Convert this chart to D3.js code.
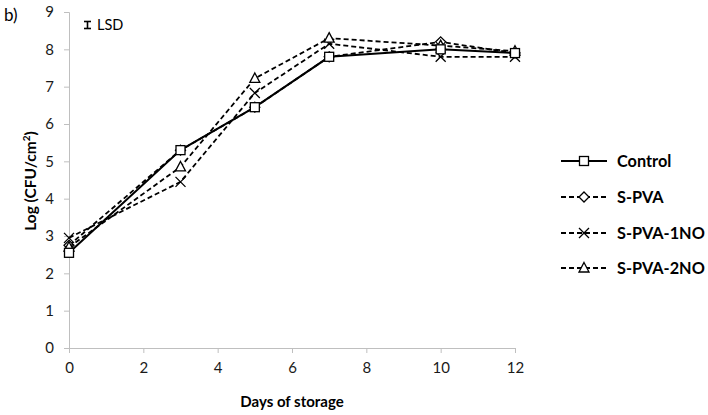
<!DOCTYPE html>
<html><head><meta charset="utf-8">
<script src="https://cdn.jsdelivr.net/npm/d3@7"></script>
<style>body{margin:0;background:#fff}svg{font-family:Lato,"Open Sans",sans-serif}</style>
</head><body><svg id="c" width="708" height="415"></svg>
<script>
const days = [0, 3, 5, 7, 10, 12];
const control = [2.55, 5.3, 6.45, 7.8, 8.0, 7.9];
const sPVA = [2.75, 5.3, 6.45, 7.8, 8.2, 7.9];
const sPVA1NO = [2.95, 4.45, 6.83, 8.15, 7.8, 7.8];
const sPVA2NO = [2.7, 4.85, 7.22, 8.3, 8.1, 7.95];
const xTicks = [0, 2, 4, 6, 8, 10, 12];
const yTicks = [0, 1, 2, 3, 4, 5, 6, 7, 8, 9];
const seriesNames = ["Control", "S-PVA", "S-PVA-1NO", "S-PVA-2NO"];
const seriesValues = [control, sPVA, sPVA1NO, sPVA2NO];
const markers = ["square", "diamond", "cross", "triangle"];

const svg = d3.select("#c");
const x = d3.scaleLinear().domain([0, 12]).range([69, 515]);
const y = d3.scaleLinear().domain([0, 9]).range([348, 12]);

const axisColor = "#bfbfbf";
const gx = svg.append("g").attr("transform", "translate(0,348)")
  .call(d3.axisBottom(x).tickValues(xTicks).tickSize(5).tickPadding(9));
const gy = svg.append("g").attr("transform", "translate(69,0)")
  .call(d3.axisLeft(y).tickValues(yTicks).tickSize(5).tickPadding(10));
[gx, gy].forEach(g => {
  g.select(".domain").attr("stroke", axisColor);
  g.selectAll(".tick line").attr("stroke", axisColor);
  g.selectAll(".tick text").attr("font-size", 15).attr("fill", "#1a1a1a")
    .attr("font-family", "Lato, sans-serif");
});

svg.append("text").attr("x", 292).attr("y", 407).attr("text-anchor", "middle")
  .attr("font-weight", "bold").attr("font-size", 15).text("Days of storage");
svg.append("text").attr("transform", "translate(36,181) rotate(-90)")
  .attr("text-anchor", "middle").attr("font-weight", "bold").attr("font-size", 15.5)
  .html('Log (CFU/cm<tspan dy="-6" font-size="10">2</tspan><tspan dy="6">)</tspan>');
svg.append("text").attr("x", 4).attr("y", 21).attr("font-size", 17).text("b)");

// LSD
const lg = svg.append("g").attr("stroke", "#000").attr("stroke-width", 1.6);
lg.append("line").attr("x1", 87.5).attr("x2", 87.5).attr("y1", 21.5).attr("y2", 28.5);
lg.append("line").attr("x1", 84).attr("x2", 91).attr("y1", 21.5).attr("y2", 21.5);
lg.append("line").attr("x1", 84).attr("x2", 91).attr("y1", 28.5).attr("y2", 28.5);
svg.append("text").attr("x", 97).attr("y", 30).attr("font-size", 14.5).text("LSD");

function drawMarker(g, type, cx, cy) {
  if (type === "square") {
    g.append("rect").attr("x", cx - 4.5).attr("y", cy - 4.5).attr("width", 9).attr("height", 9)
      .attr("fill", "#fff").attr("stroke", "#000").attr("stroke-width", 1.3);
  } else if (type === "diamond") {
    g.append("path").attr("d", `M${cx},${cy-5}L${cx+5},${cy}L${cx},${cy+5}L${cx-5},${cy}Z`)
      .attr("fill", "#fff").attr("stroke", "#000").attr("stroke-width", 1.3);
  } else if (type === "cross") {
    g.append("path").attr("d", `M${cx-5},${cy-5}L${cx+5},${cy+5}M${cx-5},${cy+5}L${cx+5},${cy-5}`)
      .attr("stroke", "#000").attr("stroke-width", 1.3);
  } else {
    g.append("path").attr("d", `M${cx},${cy-5.5}L${cx+5},${cy+4}L${cx-5},${cy+4}Z`)
      .attr("fill", "#fff").attr("stroke", "#000").attr("stroke-width", 1.3);
  }
}

const line = d3.line().x((d, i) => x(days[i])).y(d => y(d));
const order = [1, 2, 3, 0];
order.forEach(si => {
  const vals = seriesValues[si];
  const g = svg.append("g");
  g.append("path").attr("d", line(vals)).attr("fill", "none").attr("stroke", "#000")
    .attr("stroke-width", si === 0 ? 2 : 1.8)
    .attr("stroke-dasharray", si === 0 ? null : "5,3");
  vals.forEach((v, i) => drawMarker(g, markers[si], x(days[i]), y(v)));
});

// Legend
const legY = [161, 197, 233, 268];
seriesNames.forEach((n, i) => {
  const g = svg.append("g");
  g.append("line").attr("x1", 561).attr("x2", 607).attr("y1", legY[i]).attr("y2", legY[i])
    .attr("stroke", "#000").attr("stroke-width", i === 0 ? 2 : 1.8)
    .attr("stroke-dasharray", i === 0 ? null : "5,3");
  drawMarker(g, markers[i], 584, legY[i]);
  g.append("text").attr("x", 617).attr("y", legY[i] + 5.5).attr("font-weight", "bold")
    .attr("font-size", 16.3).text(n);
});
</script></body></html>
